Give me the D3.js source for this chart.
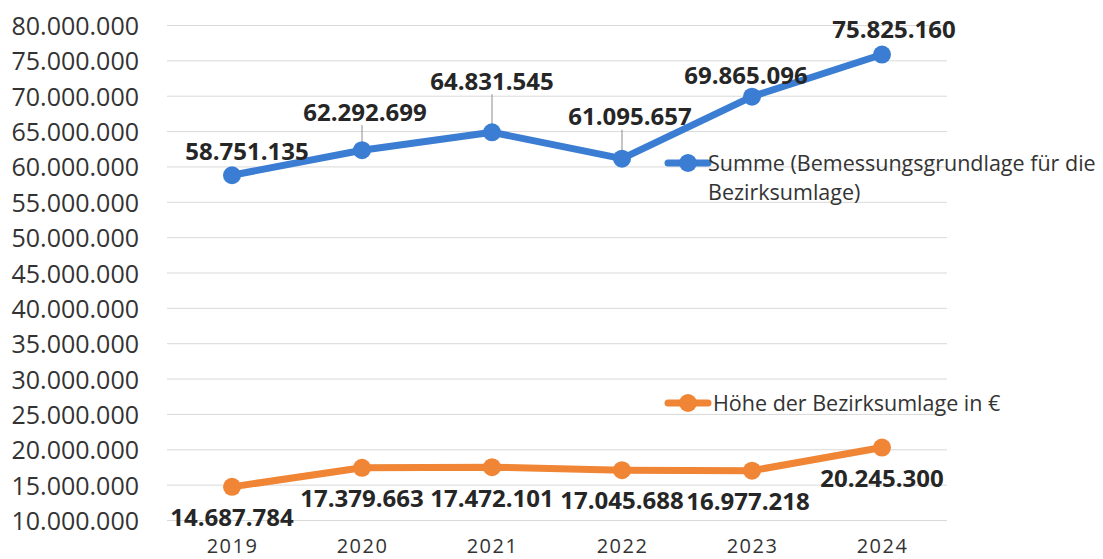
<!DOCTYPE html>
<html>
<head>
<meta charset="utf-8">
<script src="https://cdn.jsdelivr.net/npm/d3@7"></script>
<style>
  body { margin: 0; background: #fff; }
  svg { display: block; }
  .tick text { font-family: "Open Sans", sans-serif; fill: #333; }
  .label { font-family: "Open Sans", sans-serif; font-weight: bold; fill: #262626; }
  .legend text { font-family: "Open Sans", sans-serif; fill: #333; }
</style>
</head>
<body>
<div id="chart"></div>
<script>
// data
const years = ['2019', '2020', '2021', '2022', '2023', '2024'];
const summe = [58751135, 62292699, 64831545, 61095657, 69865096, 75825160];
const umlage = [14687784, 17379663, 17472101, 17045688, 16977218, 20245300];
const yTicks = [10e6, 15e6, 20e6, 25e6, 30e6, 35e6, 40e6, 45e6, 50e6, 55e6, 60e6, 65e6, 70e6, 75e6, 80e6];
const seriesNames = ['Summe (Bemessungsgrundlage für die', 'Bezirksumlage)', 'Höhe der Bezirksumlage in €'];

const width = 1103, height = 559;
const margin = {left: 167, right: 156, top: 25, bottom: 39};
const w = width - margin.left - margin.right,
      h = height - margin.top - margin.bottom;

const fmt = v => d3.format(',')(v).replace(/,/g, '.');

const svg = d3.select('#chart').append('svg')
    .attr('width', width)
    .attr('height', height);
const g = svg.append('g')
    .attr('transform', `translate(${margin.left}, ${margin.top})`);

const x = d3.scalePoint().domain(years).range([0, w]).padding(0.5);
const y = d3.scaleLinear().domain([10e6, 80e6]).range([h, 0]);

// grid + y axis
const yAxis = g.append('g')
    .call(d3.axisLeft(y).tickValues(yTicks).tickSize(-w).tickPadding(28).tickFormat(fmt));
yAxis.select('.domain').remove();
yAxis.selectAll('.tick line').attr('stroke', '#d9d9d9');
yAxis.selectAll('.tick text').attr('font-size', 25).attr('dy', '0.38em');

// x axis
const xAxis = g.append('g')
    .attr('transform', `translate(0, ${h})`)
    .call(d3.axisBottom(x).tickSize(0).tickPadding(19));
xAxis.select('.domain').remove();
xAxis.selectAll('.tick text').attr('font-size', 20).attr('letter-spacing', 1.5).attr('dy', '0.71em');

const blue = '#3a7dd2', orange = '#ef8535';

const line = d3.line().x((d, i) => x(years[i])).y(d => y(d));

// label offsets (dx, dy from point to text centre)
const summeOff = [[15, -24], [3, -38], [0, -51], [8, -42], [-6, -21], [12, -25]];
const umlageOff = [[0, 31], [0, 31], [0, 31], [0, 30], [-4, 31], [0, 31]];
const leader = [false, true, true, true, false, false];

// leader lines
const leaders = summe.map((v, i) => ({year: years[i], v, off: summeOff[i]})).filter((d, i) => leader[i]);
g.selectAll(null).data(leaders).enter().append('line')
    .attr('x1', d => x(d.year))
    .attr('y1', d => y(d.v))
    .attr('x2', d => x(d.year))
    .attr('y2', d => y(d.v) + d.off[1] + 13)
    .attr('stroke', '#8c8c8c')
    .attr('stroke-width', 1);

function series(vals, color) {
    g.append('path').datum(vals)
        .attr('d', line)
        .attr('fill', 'none')
        .attr('stroke', color)
        .attr('stroke-width', 7)
        .attr('stroke-linejoin', 'round');
    g.selectAll(null).data(vals).enter().append('circle')
        .attr('cx', (d, i) => x(years[i]))
        .attr('cy', d => y(d))
        .attr('r', 9)
        .attr('fill', color);
}
series(summe, blue);
series(umlage, orange);

function labels(vals, off) {
    g.selectAll(null).data(vals).enter().append('text')
        .attr('class', 'label')
        .attr('x', (d, i) => x(years[i]) + off[i][0])
        .attr('y', (d, i) => y(d) + off[i][1])
        .attr('dy', '0.35em')
        .attr('text-anchor', 'middle')
        .attr('font-size', 24)
        .text(fmt);
}
labels(summe, summeOff);
labels(umlage, umlageOff);

// legend
const lg = svg.append('g').attr('class', 'legend');
function legendItem(lx, ly, color, lines, tx) {
    lg.append('line')
        .attr('x1', lx).attr('x2', lx + 40)
        .attr('y1', ly).attr('y2', ly)
        .attr('stroke', color).attr('stroke-width', 7).attr('stroke-linecap', 'round');
    lg.append('circle').attr('cx', lx + 20).attr('cy', ly).attr('r', 9).attr('fill', color);
    lines.forEach((t, i) => {
        lg.append('text')
            .attr('x', lx + tx).attr('y', ly + i * 29)
            .attr('dy', '0.35em')
            .attr('font-size', 21.5)
            .text(t);
    });
}
legendItem(668, 163, blue, seriesNames.slice(0, 2), 40);
legendItem(668, 403, orange, seriesNames.slice(2), 45);
</script>
</body>
</html>
